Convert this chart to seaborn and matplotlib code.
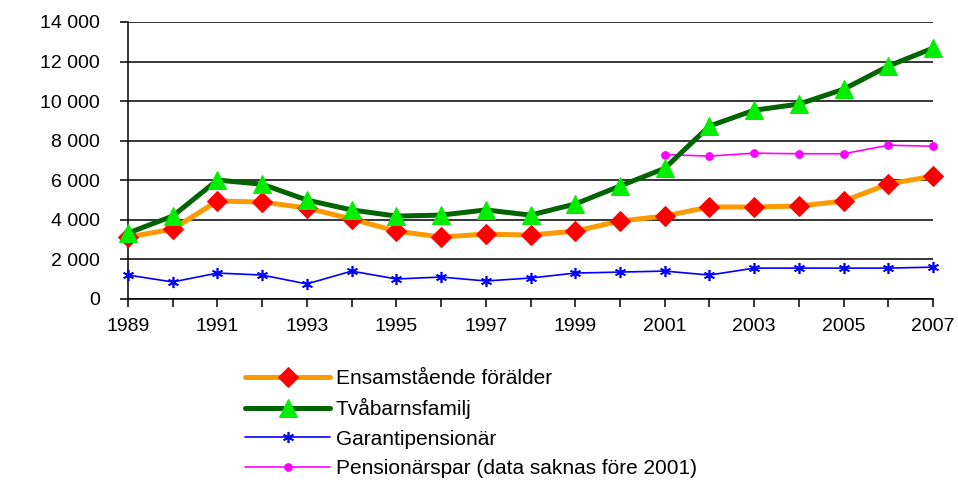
import numpy as np
import pandas as pd

import matplotlib.pyplot as plt
import matplotlib.ticker as mticker
import seaborn as sns

years = list(range(1989, 2008))

ensamstaende = [3130, 3530, 4950, 4900, 4600, 4040, 3430, 3130, 3280, 3230,
                3430, 3940, 4190, 4650, 4650, 4700, 4950, 5810, 6210]
tvabarn = [3330, 4190, 6010, 5800, 5000, 4500, 4190, 4240, 4500, 4240,
           4800, 5710, 6600, 8740, 9540, 9850, 10600, 11770, 12680]
garanti = [1210, 860, 1310, 1210, 760, 1410, 1010, 1110, 910, 1060,
           1310, 1360, 1410, 1210, 1560, 1560, 1560, 1560, 1610]
par_years = list(range(2001, 2008))
pensionarspar = [7300, 7220, 7370, 7340, 7340, 7770, 7720]

labels = ['Ensamstående förälder', 'Tvåbarnsfamilj', 'Garantipensionär',
          'Pensionärspar (data saknas före 2001)']

sns.set_style('white')
plt.rcParams['font.family'] = ['Liberation Sans', 'DejaVu Sans']
plt.rcParams['text.color'] = 'black'
plt.rcParams['xtick.color'] = 'black'
plt.rcParams['ytick.color'] = 'black'

fig = plt.figure(figsize=(9.58, 4.82), dpi=100)
ax = fig.add_axes([0.1336, 0.3797, 0.974 - 0.1336, 0.9544 - 0.3797])

sns.lineplot(x=years, y=ensamstaende, ax=ax, color='#ff9900', linewidth=3.6,
             marker='D', markersize=10, markerfacecolor='red', markeredgecolor='red',
             label=labels[0], clip_on=False, zorder=4)
sns.lineplot(x=years, y=tvabarn, ax=ax, color='#006400', linewidth=3.6,
             marker='^', markersize=13, markerfacecolor='#00ee00', markeredgecolor='#00ee00',
             label=labels[1], clip_on=False, zorder=5)
sns.lineplot(x=years, y=garanti, ax=ax, color='#0000ff', linewidth=1.2,
             marker=(6, 2, 0), markersize=8, markeredgewidth=1.2, markeredgecolor='#0000ff',
             label=labels[2], clip_on=False, zorder=3)
sns.lineplot(x=par_years, y=pensionarspar, ax=ax, color='#ff00ff', linewidth=1.2,
             marker='o', markersize=5.5, markerfacecolor='#ff00ff', markeredgecolor='#ff00ff',
             label=labels[3], clip_on=False, zorder=3)

ax.set_xlim(1989, 2007)
ax.set_ylim(0, 14000)
ax.set_yticks(np.arange(0, 14001, 2000))
ax.yaxis.set_major_formatter(mticker.FuncFormatter(lambda v, p: f'{v:,.0f}'.replace(',', ' ')))
ax.set_xticks(range(1989, 2008, 2))
ax.set_xticks(range(1989, 2008), minor=True)

ax.grid(True, axis='y', color='black', linewidth=1.1)
ax.set_axisbelow(True)
for s in ['top', 'right']:
    ax.spines[s].set_visible(False)
for s in ['left', 'bottom']:
    ax.spines[s].set_color('black')
    ax.spines[s].set_linewidth(1.1)

ax.tick_params(axis='both', which='both', direction='out', length=6, width=1.1,
               color='black', labelcolor='black', labelsize=14)
ax.tick_params(axis='x', which='both', bottom=True, pad=8)
ax.tick_params(axis='y', left=True, pad=14)
ax.set_xlabel('')
ax.set_ylabel('')

leg = ax.legend(loc='upper left', bbox_to_anchor=(0.247, 0.252), bbox_transform=fig.transFigure,
                frameon=False, fontsize=15, handlelength=4.1, handletextpad=0.25,
                labelspacing=0.5, borderaxespad=0)
for t in leg.get_texts():
    t.set_color('black')

plt.savefig('out.png', dpi=100)
plt.close()
